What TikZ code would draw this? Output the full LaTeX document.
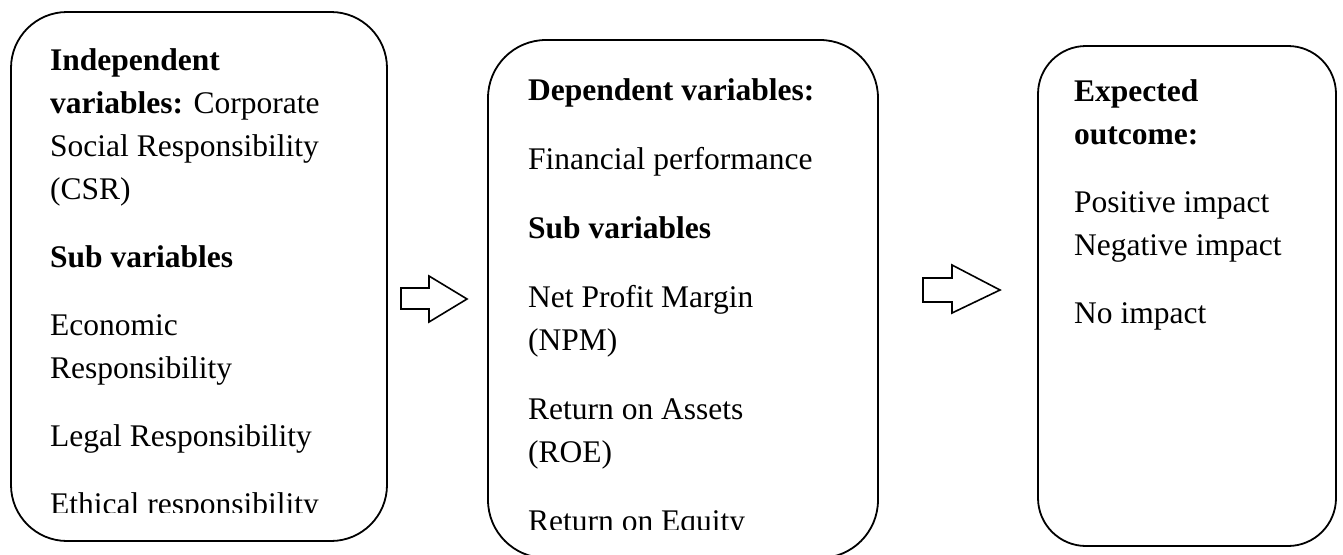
\documentclass[tikz,border=0pt]{standalone}
\usepackage{fontspec}
\setmainfont{Liberation Serif}
\tikzset{
  box/.style={draw, line width=1.8pt, inner sep=0pt},
  txt/.style={anchor=base west, inner sep=0pt, font=\fontsize{31.5}{36}\selectfont},
  blockarrow/.style={draw, line width=1.6pt, line join=miter, fill=white}
}
\begin{document}
\begin{tikzpicture}[x=1pt, y=-1pt]
\useasboundingbox (0,0) rectangle (1343,554);
% boxes
\node[box, rounded corners=56pt, minimum width=376pt, minimum height=529pt] (b1) at (199,276.5) {};
\node[box, rounded corners=58pt, minimum width=390pt, minimum height=518pt] (b2) at (683,299) {};
\node[box, rounded corners=48pt, minimum width=298pt, minimum height=500pt] (b3) at (1187,296) {};
% box 1 text
\begin{scope}
\clip (11,0) rectangle (387,512);
\node[txt] (t1a) at (50,70) {\textbf{Independent}};
\node[txt] (t1b) at (50,113) {\textbf{variables:} Corporate};
\node[txt] (t1c) at (50,156) {Social Responsibility};
\node[txt] (t1d) at (50,199) {(CSR)};
\node[txt] (t1e) at (50,267) {\textbf{Sub variables}};
\node[txt] (t1f) at (50,335) {Economic};
\node[txt] (t1g) at (50,378) {Responsibility};
\node[txt] (t1h) at (50,446) {Legal Responsibility};
\node[txt] (t1i) at (50,514) {Ethical responsibility};
\end{scope}
% box 2 text
\begin{scope}
\clip (488,0) rectangle (878,529);
\node[txt] (t2a) at (528,100) {\textbf{Dependent variables:}};
\node[txt] (t2b) at (528,169) {Financial performance};
\node[txt] (t2c) at (528,238) {\textbf{Sub variables}};
\node[txt] (t2d) at (528,307) {Net Profit Margin};
\node[txt] (t2e) at (528,350) {(NPM)};
\node[txt] (t2f) at (528,419) {Return on Assets};
\node[txt] (t2g) at (528,462) {(ROE)};
\node[txt] (t2h) at (528,531) {Return on Equity};
\end{scope}
% box 3 text
\node[txt] (t3a) at (1074,101) {\textbf{Expected}};
\node[txt] (t3b) at (1074,144) {\textbf{outcome:}};
\node[txt] (t3c) at (1074,212) {Positive impact};
\node[txt] (t3d) at (1074,255) {Negative impact};
\node[txt] (t3e) at (1074,323) {No impact};
% block arrows
\draw[blockarrow] (401,288) -- (429,288) -- (429,276) -- (467,299) -- (429,322) -- (429,309) -- (401,309) -- cycle;
\draw[blockarrow] (923,278) -- (952,278) -- (952,265) -- (1000,290) -- (952,313) -- (952,302) -- (923,302) -- cycle;
\end{tikzpicture}
\end{document}
